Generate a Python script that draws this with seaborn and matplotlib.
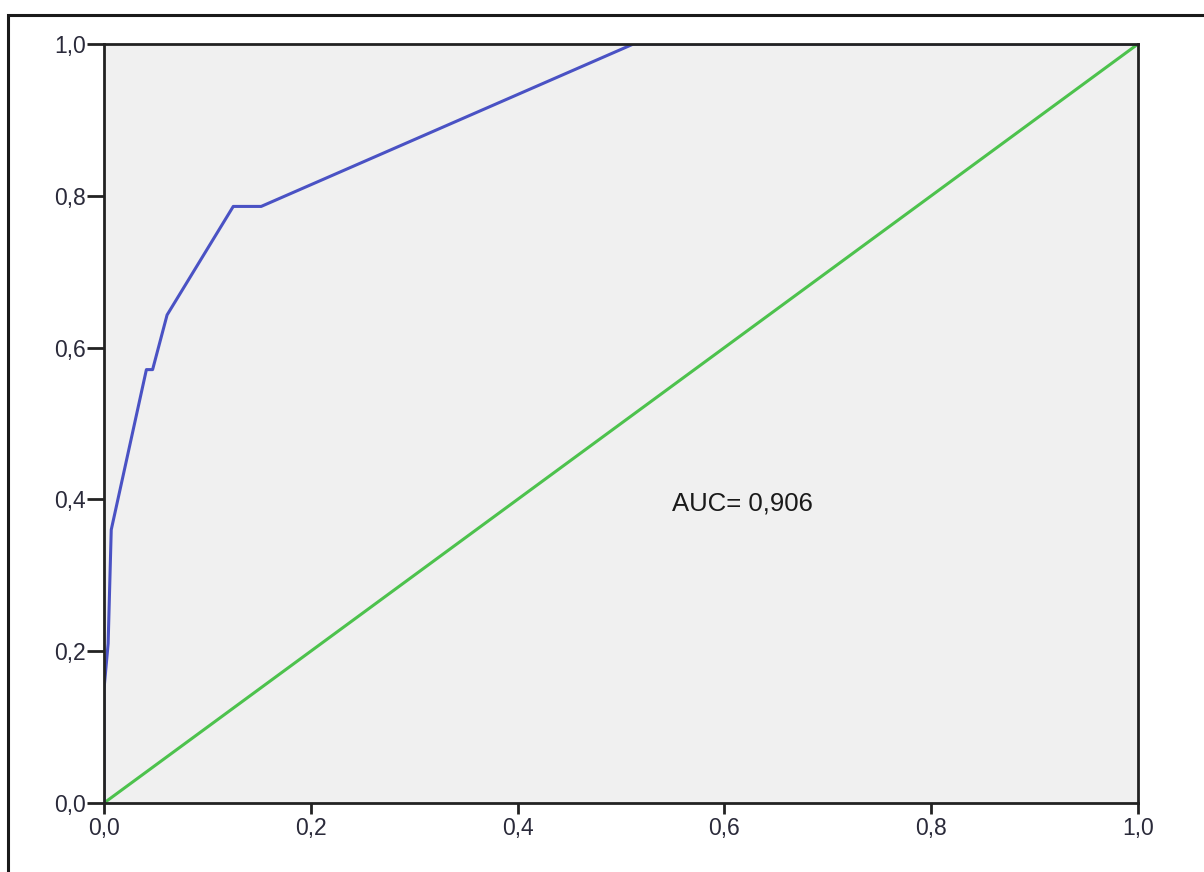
import matplotlib
matplotlib.use("Agg")
import matplotlib.pyplot as plt
import matplotlib.patches as mpatches
import seaborn as sns
import pandas as pd

# ROC curve values
fpr = [0.0, 0.0, 0.004, 0.007, 0.041, 0.047, 0.061, 0.125, 0.152, 0.512, 1.0]
tpr = [0.0, 0.15, 0.21, 0.36, 0.571, 0.571, 0.643, 0.786, 0.786, 1.0, 1.0]
ref_x = [0.0, 1.0]
ref_y = [0.0, 1.0]
ticks = [0.0, 0.2, 0.4, 0.6, 0.8, 1.0]
tick_labels = ["0,0", "0,2", "0,4", "0,6", "0,8", "1,0"]
auc_text = "AUC= 0,906"

sns.set_style("white")
plt.rcParams['font.family'] = ['Liberation Sans', 'DejaVu Sans']

roc = pd.DataFrame({'fpr': fpr, 'tpr': tpr})
diag = pd.DataFrame({'x': ref_x, 'y': ref_y})

fig = plt.figure(figsize=(12.04, 8.72), dpi=100)
fig.patch.set_facecolor('white')

# outer frame (only left and top edges are inside the picture)
fig.patches.append(mpatches.Rectangle((8 / 1204, -0.1), 1.2, 1 - 15 / 872 + 0.1,
                                      transform=fig.transFigure, fill=False,
                                      edgecolor='#1a1a1a', linewidth=2.2))

ax = fig.add_axes([104 / 1204, 69 / 872, 1034 / 1204, 759 / 872])
ax.set_facecolor('#f0f0f0')

sns.lineplot(data=diag, x='x', y='y', ax=ax, color='#4dc24d', linewidth=2.2,
             sort=False, estimator=None)
sns.lineplot(data=roc, x='fpr', y='tpr', ax=ax, color='#4a52c4', linewidth=2.2,
             sort=False, estimator=None)

ax.set_xlim(0, 1)
ax.set_ylim(0, 1)
ax.set_xticks(ticks)
ax.set_yticks(ticks)
ax.set_xticklabels(tick_labels, fontsize=16.5, color='#2a2a3a')
ax.set_yticklabels(tick_labels, fontsize=16.5, color='#2a2a3a')
ax.tick_params(axis='x', bottom=True, direction='out', length=8, width=2,
               color='#222222', pad=2)
ax.tick_params(axis='y', left=True, direction='out', length=12, width=2,
               color='#222222', pad=1)
ax.set_xlabel('')
ax.set_ylabel('')
for side in ['left', 'bottom', 'top', 'right']:
    ax.spines[side].set_visible(True)
    ax.spines[side].set_color('#222222')
    ax.spines[side].set_linewidth(2)

ax.text(0.549, 0.395, auc_text, fontsize=18.5, color='#1a1a1a', ha='left', va='center')

fig.savefig('out.png', dpi=100)
